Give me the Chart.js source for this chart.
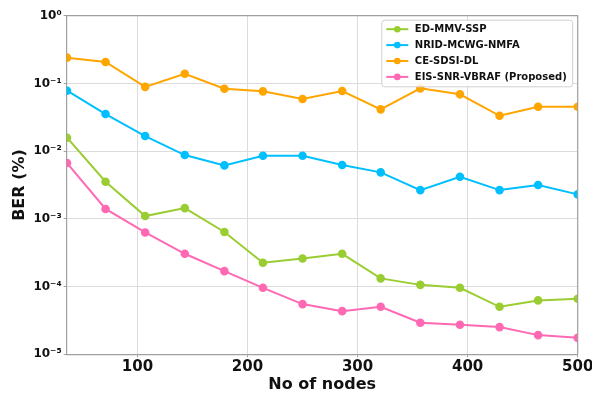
<!DOCTYPE html>
<html lang="en">
<head>
  <meta charset="UTF-8" />
  <title>BER vs No of nodes</title>
  <style>
    body { margin: 0; background: #fff; }
    canvas { display: block; }
  </style>
  <script src="https://cdn.jsdelivr.net/npm/chart.js"></script>
</head>
<body>
  <canvas id="berChart" width="592" height="394"></canvas>

  <script>
    // data
    const nodes = [36, 71, 107, 143, 179, 214, 250, 286, 321, 357, 393, 429, 464, 500];
    const edMmvSsp = [0.0158, 0.00353, 0.0011, 0.00144, 0.00064, 0.000225, 0.00026, 0.000305,
                      0.000132, 0.000106, 0.000096, 0.0000503, 0.0000625, 0.0000661];
    const nridMcwgNmfa = [0.078, 0.0353, 0.0167, 0.00875, 0.00616, 0.00855, 0.00855, 0.00623,
                          0.00486, 0.00266, 0.00419, 0.00266, 0.00316, 0.0023];
    const ceSdsiDl = [0.24, 0.207, 0.089, 0.139, 0.0835, 0.0764, 0.0589, 0.0772,
                      0.0414, 0.0846, 0.069, 0.0333, 0.0453, 0.0453];
    const eisSnrVbraf = [0.00667, 0.0014, 0.00063, 0.000305, 0.000169, 0.0000959, 0.0000551, 0.0000434,
                         0.0000503, 0.0000292, 0.0000273, 0.0000252, 0.0000192, 0.0000175];
    const seriesNames = ['ED-MMV-SSP', 'NRID-MCWG-NMFA', 'CE-SDSI-DL', 'EIS-SNR-VBRAF (Proposed)'];
    const xTicks = [100, 200, 300, 400, 500];
    const yTicks = [1e-5, 1e-4, 1e-3, 1e-2, 1e-1, 1];

    const FONT = '"DejaVu Sans", sans-serif';
    const sup = { '-': '⁻', '0': '⁰', '1': '¹', '2': '²', '3': '³', '4': '⁴', '5': '⁵' };

    function series(label, values, color) {
      return {
        label: label,
        data: values.map((v, i) => ({ x: nodes[i], y: v })),
        borderColor: color,
        backgroundColor: color,
        borderWidth: 2,
        pointRadius: 3.3,
        pointHoverRadius: 4,
        tension: 0,
        clip: 0
      };
    }

    // top/right spines
    const frame = {
      id: 'frame',
      afterDatasetsDraw(chart) {
        const { ctx, chartArea: a } = chart;
        ctx.save();
        ctx.strokeStyle = '#a0a0a0';
        ctx.lineWidth = 1.2;
        ctx.beginPath();
        ctx.moveTo(a.left, a.top);
        ctx.lineTo(a.right, a.top);
        ctx.lineTo(a.right, a.bottom);
        ctx.stroke();
        ctx.restore();
      }
    };

    // legend inside the plot, top right (matplotlib style)
    const legendBox = {
      id: 'legendBox',
      afterDraw(chart) {
        const { ctx, chartArea: a } = chart;
        const sets = chart.data.datasets;
        ctx.save();
        ctx.font = 'bold 10px ' + FONT;
        const textW = Math.max(...sets.map(d => ctx.measureText(d.label).width));
        const rowH = 15.9;
        const w = 4 + 22 + 7 + textW + 6;
        const h = sets.length * rowH + 3;
        const x = a.right - 5 - w;
        const y = a.top + 4.5;

        ctx.fillStyle = 'rgba(255,255,255,0.85)';
        ctx.strokeStyle = '#d0d0d0';
        ctx.lineWidth = 1;
        ctx.beginPath();
        ctx.roundRect(x, y, w, h, 3);
        ctx.fill();
        ctx.stroke();

        sets.forEach((d, i) => {
          const cy = y + 9 + i * rowH;
          ctx.strokeStyle = d.borderColor;
          ctx.lineWidth = 2;
          ctx.beginPath();
          ctx.moveTo(x + 4.5, cy);
          ctx.lineTo(x + 26.5, cy);
          ctx.stroke();
          ctx.fillStyle = d.borderColor;
          ctx.beginPath();
          ctx.arc(x + 15.5, cy, 3.3, 0, Math.PI * 2);
          ctx.fill();
          ctx.fillStyle = '#111';
          ctx.textBaseline = 'middle';
          ctx.fillText(d.label, x + 33, cy + 0.5);
        });
        ctx.restore();
      }
    };

    const ctx = document.getElementById('berChart').getContext('2d');
    const chart = new Chart(ctx, {
      type: 'line',
      data: {
        datasets: [
          series(seriesNames[0], edMmvSsp, '#9acd32'),
          series(seriesNames[1], nridMcwgNmfa, '#00bfff'),
          series(seriesNames[2], ceSdsiDl, '#ffa500'),
          series(seriesNames[3], eisSnrVbraf, '#ff69b4')
        ]
      },
      options: {
        responsive: false,
        animation: false,
        layout: { padding: { top: 15.7, right: 14.3, bottom: 0, left: 0 } },
        plugins: {
          legend: { display: false },
          tooltip: { enabled: false }
        },
        scales: {
          x: {
            type: 'linear',
            min: 35.7,
            max: 500,
            afterBuildTicks: s => { s.ticks = xTicks.map(v => ({ value: v })); },
            afterFit: s => { s.height = 39.7; s.paddingRight = 0; s.paddingLeft = 0; },
            grid: { color: '#dcdcdc', lineWidth: 1, tickLength: 3, tickColor: '#a0a0a0' },
            border: { color: '#a0a0a0', width: 1.2 },
            ticks: {
              color: '#111',
              padding: 1,
              maxRotation: 0,
              font: { family: FONT, size: 15, weight: 'bold' }
            },
            title: {
              display: true,
              text: 'No of nodes',
              color: '#111',
              padding: 0,
              font: { family: FONT, size: 16, weight: 'bold' }
            }
          },
          y: {
            type: 'logarithmic',
            min: 1e-5,
            max: 1,
            afterBuildTicks: s => { s.ticks = yTicks.map(v => ({ value: v })); },
            afterFit: s => { s.width = 66.7; s.paddingTop = 0; s.paddingBottom = 0; },
            grid: { color: '#dcdcdc', lineWidth: 1, tickLength: 3, tickColor: '#a0a0a0' },
            border: { color: '#a0a0a0', width: 1.2 },
            ticks: {
              color: '#111',
              padding: 2,
              font: { family: FONT, size: 12, weight: 'bold' },
              callback: v => '10' + String(Math.round(Math.log10(v))).split('').map(c => sup[c]).join('')
            },
            title: {
              display: true,
              text: 'BER (%)',
              color: '#111',
              padding: { top: 10, bottom: 0 },
              font: { family: FONT, size: 16, weight: 'bold' }
            }
          }
        }
      },
      plugins: [frame, legendBox]
    });
  </script>
</body>
</html>
